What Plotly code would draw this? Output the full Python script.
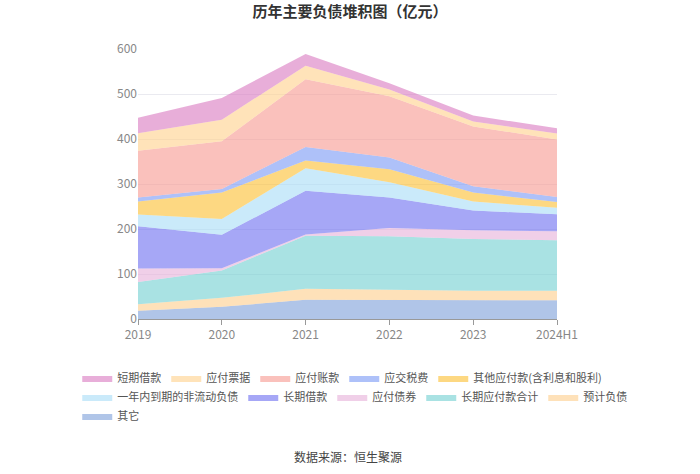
import plotly.graph_objects as go

years = ["2019", "2020", "2021", "2022", "2023", "2024H1"]

# series, bottom to top of the stack
qita = [18.5, 27, 43, 43, 41.5, 41.5]           # 其它
yujifuzhai = [14.5, 20, 24, 22, 21.5, 21.5]      # 预计负债
changqiyingfu = [49, 61, 118, 119, 115, 112]     # 长期应付款合计
yingfuzhaiquan = [30, 5, 3, 18, 19, 20]          # 应付债券
changqijiekuan = [94, 74, 97, 68, 44, 38]        # 长期借款
yinianneidaoqi = [26, 35, 50, 34, 20, 14]        # 一年内到期的非流动负债
qitayingfu = [29, 59, 17, 29, 20, 13]            # 其他应付款(含利息和股利)
yingjiaoshuifei = [9, 8, 30, 26, 14, 11]         # 应交税费
yingfuzhangkuan = [104, 106, 151, 136, 133, 128] # 应付账款
yingfupiaoju = [39, 48, 30, 15, 11, 13]          # 应付票据
duanqijiekuan = [34, 48, 26, 14, 13, 12]         # 短期借款

# (name, values, colour, legend row)
series = [
    ("其它", qita, (124, 159, 216), "legend3"),
    ("预计负债", yujifuzhai, (253, 205, 138), "legend2"),
    ("长期应付款合计", changqiyingfu, (111, 207, 208), "legend2"),
    ("应付债券", yingfuzhaiquan, (230, 175, 216), "legend2"),
    ("长期借款", changqijiekuan, (107, 108, 240), "legend2"),
    ("一年内到期的非流动负债", yinianneidaoqi, (167, 220, 247), "legend2"),
    ("其他应付款(含利息和股利)", qitayingfu, (251, 190, 46), "legend"),
    ("应交税费", yingjiaoshuifei, (120, 152, 245), "legend"),
    ("应付账款", yingfuzhangkuan, (247, 151, 144), "legend"),
    ("应付票据", yingfupiaoju, (255, 208, 138), "legend"),
    ("短期借款", duanqijiekuan, (216, 120, 191), "legend"),
]

fig = go.Figure()
for name, vals, (r, g, b), leg in series:
    fig.add_trace(go.Scatter(
        x=years, y=vals, name=name, mode="lines",
        stackgroup="one", legend=leg,
        line=dict(width=0, color=f"rgb({r},{g},{b})"),
        fillcolor=f"rgba({r},{g},{b},0.6)",
    ))

def leg(ypaper):
    return dict(orientation="h", traceorder="reversed",
                x=-0.145, xanchor="left", y=ypaper, yanchor="middle",
                font=dict(size=11, color="#555"), itemwidth=30,
                bgcolor="rgba(0,0,0,0)")

fig.update_layout(
    width=700, height=474,
    margin=dict(l=138, r=143, t=49, b=155, autoexpand=False),
    paper_bgcolor="white", plot_bgcolor="white",
    font=dict(family="Noto Sans CJK SC, sans-serif", color="#666", size=12),
    title=dict(text="<b>历年主要负债堆积图（亿元）</b>", x=0.5, xanchor="center",
               y=0.975, yanchor="middle", font=dict(size=15, color="#333")),
    showlegend=True,
    legend=leg(-0.2185),
    legend2=leg(-0.289),
    legend3=leg(-0.359),
    xaxis=dict(range=[0, 5], showgrid=False, showline=True, linecolor="#999",
               ticks="outside", ticklen=5, tickcolor="#999",
               tickfont=dict(color="#888", size=12)),
    yaxis=dict(range=[0, 600], dtick=100, showgrid=True, gridcolor="#eaeaf0",
               zeroline=False, showline=False,
               tickfont=dict(color="#888", size=12)),
    annotations=[dict(text="数据来源：恒生聚源", x=0.5, xref="paper", y=-0.511, yref="paper",
                      yanchor="middle", showarrow=False, font=dict(size=12, color="#444"))],
)

fig.write_html("out.html", config={"displayModeBar": False},
               post_script="document.body.style.margin='0';")
